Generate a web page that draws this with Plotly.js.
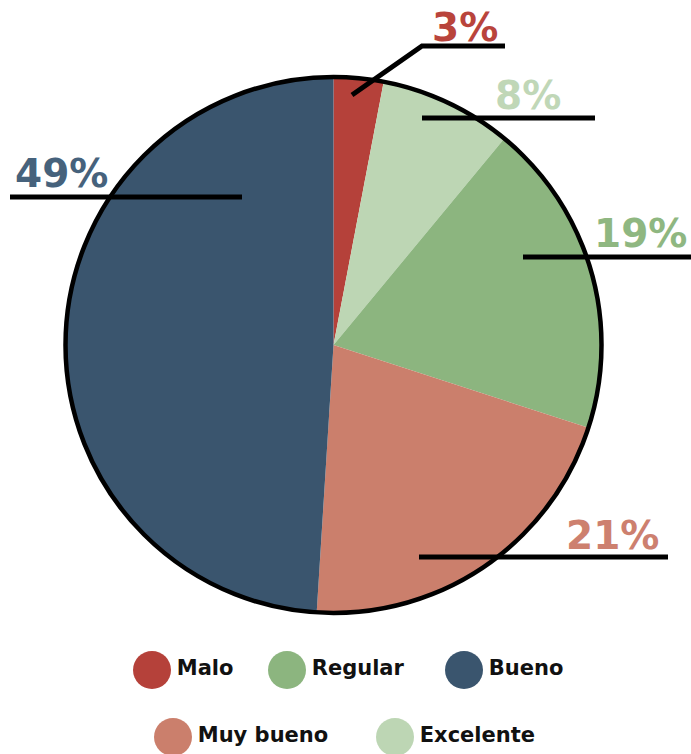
<!DOCTYPE html>
<html>
<head>
<meta charset="utf-8">
<script src="https://cdn.plot.ly/plotly-3.0.1.min.js"></script>
<style>
  html, body { margin: 0; padding: 0; background: #ffffff; }
  #chart { width: 691px; height: 754px; }
</style>
</head>
<body>
<div id="chart"></div>
<script>
// ---- data ----
var categories = ['Malo', 'Excelente', 'Regular', 'Muy bueno', 'Bueno'];
var values = [3, 8, 19, 21, 49];
var sliceColors = ['#b5413a', '#bdd6b4', '#8cb57f', '#cb7f6c', '#3a556e'];
var labelColors = ['#b9443c', '#c0d7b7', '#8fb781', '#cd806f', '#46627c'];
var legendOrder = ['Malo', 'Regular', 'Bueno', 'Muy bueno', 'Excelente'];

// ---- layout helpers (pixel space: x 0..691, y 0..754 top-down) ----
var labelPos = {
  'Malo':      {x: 465, y: 27},
  'Excelente': {x: 528, y: 95},
  'Regular':   {x: 640, y: 233},
  'Muy bueno': {x: 612, y: 535},
  'Bueno':     {x: 61,  y: 173}
};
var leaderPaths = {
  'Malo':      'M352,95 L422,46 L505,46',
  'Excelente': 'M422,118 L595,118',
  'Regular':   'M523,257 L691,257',
  'Muy bueno': 'M419,557 L668,557',
  'Bueno':     'M10,197 L242,197'
};
var legendPos = {
  'Malo':      {x: 152, y: 670},
  'Regular':   {x: 287, y: 670},
  'Bueno':     {x: 464, y: 670},
  'Muy bueno': {x: 173, y: 737},
  'Excelente': {x: 395, y: 737}
};

var W = 691, H = 754;
var cx = 333.5, cy = 345, R = 268;
var dom = {x: [(cx - R) / W, (cx + R) / W], y: [1 - (cy + R) / H, 1 - (cy - R) / H]};

var pie = {
  type: 'pie',
  labels: categories,
  values: values,
  sort: false,
  direction: 'clockwise',
  rotation: 0,
  marker: {colors: sliceColors, line: {width: 0}},
  textinfo: 'none',
  hoverinfo: 'label+percent',
  showlegend: false,
  domain: dom
};
var outline = {
  type: 'pie',
  labels: ['outline'],
  values: [1],
  sort: false,
  marker: {colors: ['rgba(0,0,0,0)'], line: {color: '#000000', width: 4.5}},
  textinfo: 'none',
  hoverinfo: 'skip',
  showlegend: false,
  domain: dom
};

var legendTrace = {
  type: 'scatter',
  mode: 'markers+text',
  x: legendOrder.map(function (c) { return legendPos[c].x; }),
  y: legendOrder.map(function (c) { return legendPos[c].y; }),
  text: legendOrder,
  textposition: 'middle right',
  textfont: {family: 'DejaVu Sans', size: 21, color: '#111111', weight: 'bold'},
  marker: {
    size: 38,
    color: legendOrder.map(function (c) { return sliceColors[categories.indexOf(c)]; }),
    line: {width: 0}
  },
  hoverinfo: 'skip',
  showlegend: false,
  cliponaxis: false
};

var annotations = categories.map(function (c, i) {
  return {
    x: labelPos[c].x, y: labelPos[c].y, xref: 'x', yref: 'y',
    text: '<b>' + values[i] + '%</b>',
    showarrow: false,
    xanchor: 'center', yanchor: 'middle',
    font: {family: 'DejaVu Sans', size: 39, color: labelColors[i]}
  };
});

var shapes = categories.map(function (c) {
  return {
    type: 'path', xref: 'x', yref: 'y', path: leaderPaths[c],
    line: {color: '#000000', width: 5}, layer: 'above'
  };
});

var layout = {
  width: W, height: H,
  margin: {l: 0, r: 0, t: 0, b: 0, pad: 0},
  paper_bgcolor: '#ffffff', plot_bgcolor: 'rgba(0,0,0,0)',
  showlegend: false,
  xaxis: {range: [0, W], visible: false, fixedrange: true, domain: [0, 1]},
  yaxis: {range: [H, 0], visible: false, fixedrange: true, domain: [0, 1]},
  annotations: annotations,
  shapes: shapes
};

Plotly.newPlot('chart', [legendTrace, pie, outline], layout, {displayModeBar: false, staticPlot: true});
</script>
</body>
</html>
